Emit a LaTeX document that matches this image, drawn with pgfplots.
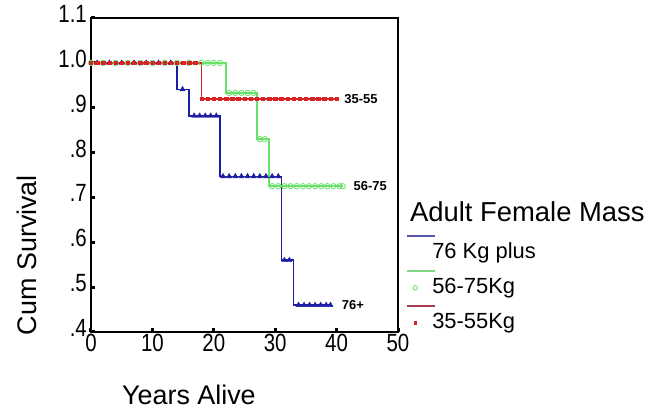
\documentclass[border=0pt]{standalone}
\usepackage{fontspec}
\setmainfont{Liberation Sans}
\newfontfamily\narrowfont[FakeStretch=0.82]{Liberation Sans}
\usepackage{pgfplots}
\pgfplotsset{compat=1.18}
\definecolor{cblue}{RGB}{30,30,165}
\definecolor{cgreen}{RGB}{105,225,105}
\definecolor{cred}{RGB}{215,35,35}
\definecolor{lblue}{RGB}{85,85,170}
\definecolor{lgreen}{RGB}{130,215,130}
\definecolor{lred}{RGB}{165,60,80}
\begin{document}
\begin{tikzpicture}
\begin{axis}[name=ax, scale only axis, width=307bp, height=314bp,
  xmin=0, xmax=50, ymin=0.4, ymax=1.1,
  xtick={0,10,20,30,40,50},
  ytick={0.4,0.5,0.6,0.7,0.8,0.9,1.0,1.1},
  yticklabels={.4,.5,.6,.7,.8,.9,1.0,1.1},
  xtick pos=left, ytick pos=left,
  tick align=inside, major tick length=4bp,
  tick style={black, line width=3bp},
  axis line style={black, line width=1.3bp},
  /pgf/number format/assume math mode=true,
  ticklabel style={font=\narrowfont\fontsize{25}{25}\selectfont},
  xticklabel style={inner sep=1.5bp},
  yticklabel style={inner sep=4bp, yshift=4bp},
  clip=false,
  xlabel={Years Alive},
  ylabel={Cum Survival},
  xlabel style={font=\fontsize{27}{27}\selectfont, at={(axis description cs:0.319,-0.200)}, anchor=center},
  ylabel style={font=\fontsize{27}{27}\selectfont, at={(axis description cs:-0.208,0.245)}, anchor=center, rotate=0},
  legend style={draw=none, fill=none, inner sep=0pt, at={(axis description cs:1.023,0.283)}, anchor=north west,
    row sep=16bp, column sep=5bp,
    nodes={inner sep=0pt, text height=15bp, text depth=4bp, font=\fontsize{22}{22}\selectfont}},
  legend cell align=left,
]
% 76+ (blue)
\addplot[const plot, cblue, line width=1.6bp, forget plot] coordinates {
 (0,1) (14,0.941) (16,0.882) (21,0.747) (31,0.56) (33,0.46) (39,0.46)};
\addplot[only marks, mark=triangle*, mark size=3bp, cblue, forget plot] coordinates {
 (1,1)(3,1)(5,1)(7,1)(9,1)(11,1)(13,1)
 (14.9,0.941)
 (16.8,0.882)(17.7,0.882)(18.6,0.882)(19.5,0.882)(20.4,0.882)
 (21.5,0.747)(22.5,0.747)(23.5,0.747)(24.5,0.747)(25.5,0.747)(26.5,0.747)(27.5,0.747)(28.5,0.747)(29.5,0.747)(30.5,0.747)
 (31.5,0.56)(32.3,0.56)
 (33.8,0.46)(34.7,0.46)(35.6,0.46)(36.5,0.46)(37.4,0.46)(38.3,0.46)(39,0.46)};
% 56-75 (green)
\addplot[const plot, cgreen, line width=1.6bp, forget plot] coordinates {
 (0,1) (22,0.933) (27,0.83) (29,0.725) (41,0.725)};
\addplot[only marks, mark=o, mark size=2.7bp, cgreen, thick, forget plot] coordinates {
 (0,1)(2,1)(4,1)(6,1)(8,1)(10,1)(12,1)(14,1)(16,1)(18,1)(19,1)(20,1)(21,1)
 (22.5,0.933)(23.5,0.933)(24.5,0.933)(25.5,0.933)(26.5,0.933)
 (27.5,0.83)(28.3,0.83)
 (29.5,0.725)(30.5,0.725)(31.5,0.725)(32.5,0.725)(33.5,0.725)(34.5,0.725)(35.5,0.725)(36.5,0.725)(37.5,0.725)(38.5,0.725)(39.5,0.725)(40.5,0.725)(41,0.725)};
% 35-55 (red)
\addplot[const plot, cred, line width=1.6bp, forget plot] coordinates {
 (0,1) (18,0.92) (40,0.92)};
\addplot[only marks, mark=square*, mark size=1.7bp, cred, forget plot] coordinates {
 (0,1)(1,1)(2,1)(3,1)(4,1)(5,1)(6,1)(7,1)(8,1)(9,1)(10,1)(11,1)(12,1)(13,1)(14,1)(15,1)(16,1)(17,1)
 (18,0.92)(19,0.92)(20,0.92)(21,0.92)(22,0.92)(23,0.92)(24,0.92)(25,0.92)(26,0.92)(27,0.92)(28,0.92)(29,0.92)
 (30,0.92)(31,0.92)(32,0.92)(33,0.92)(34,0.92)(35,0.92)(36,0.92)(37,0.92)(38,0.92)(39,0.92)(40,0.92)};
% legend
\addlegendimage{legend image code/.code={
  \path[draw=none, fill=none] (0,-4bp) rectangle (22bp,4bp);
  \draw[overlay, lblue, line width=1.4bp] (2bp,17bp) -- (30bp,17bp);}}
\addlegendentry{76 Kg plus}
\addlegendimage{legend image code/.code={
  \path[draw=none, fill=none] (0,-4bp) rectangle (22bp,4bp);
  \draw[overlay, lgreen, line width=1.4bp] (2bp,17bp) -- (30bp,17bp);
  \draw[cgreen, line width=0.8bp, fill=none] (10bp,0) circle (2.3bp);}}
\addlegendentry{56-75Kg}
\addlegendimage{legend image code/.code={
  \path[draw=none, fill=none] (0,-4bp) rectangle (22bp,4bp);
  \draw[overlay, lred, line width=1.4bp] (2bp,17bp) -- (30bp,17bp);
  \fill[cred] (8.8bp,-1.2bp) rectangle (11.2bp,1.2bp);}}
\addlegendentry{35-55Kg}
% curve labels and legend title
\node[anchor=west, font=\bfseries\fontsize{13}{13}\selectfont] at (axis cs:40.7,0.92) {35-55};
\node[anchor=west, font=\bfseries\fontsize{13}{13}\selectfont] at (axis cs:42.2,0.725) {56-75};
\node[anchor=west, font=\bfseries\fontsize{13}{13}\selectfont] at (axis cs:40.3,0.46) {76+};
\node[anchor=west, inner sep=0pt, font=\fontsize{27.5}{27.5}\selectfont] at (axis description cs:1.039,0.382) {Adult Female Mass};
\end{axis}
\pgfresetboundingbox
\useasboundingbox ([xshift=-91bp,yshift=-78bp]ax.south west) rectangle ([xshift=258bp,yshift=18bp]ax.north east);
\end{tikzpicture}
\end{document}
